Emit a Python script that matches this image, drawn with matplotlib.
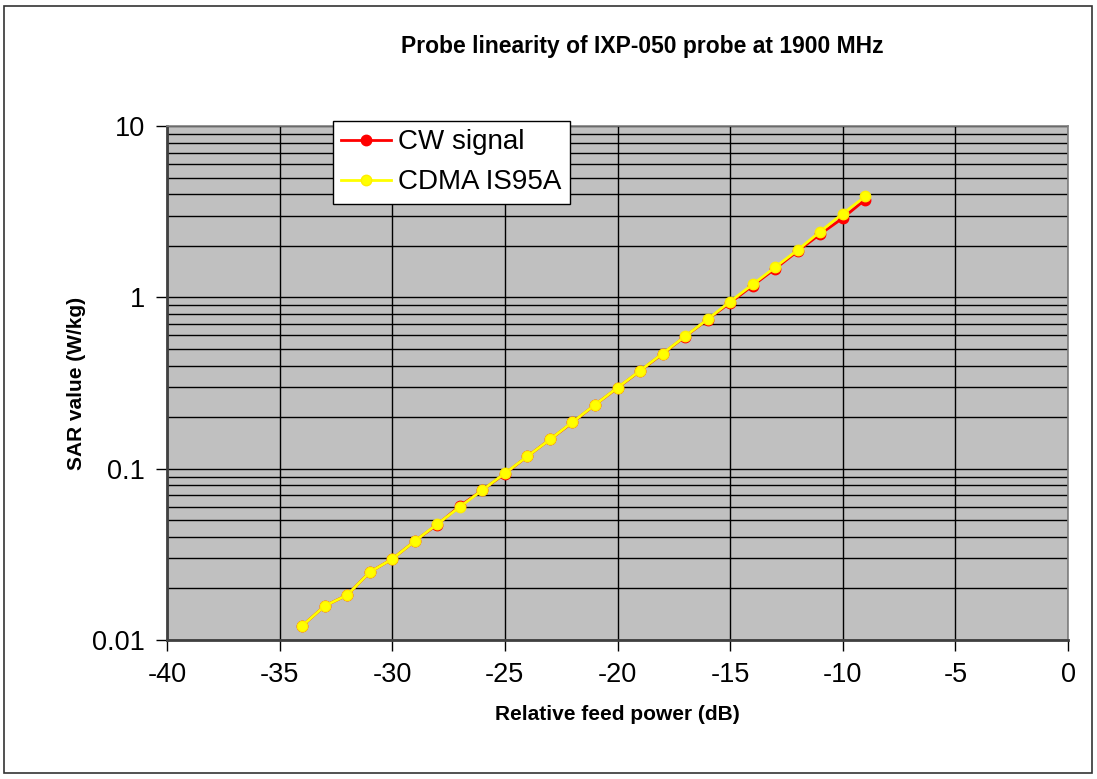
import matplotlib
matplotlib.use("Agg")
import matplotlib.pyplot as plt
from matplotlib.patches import Rectangle
from matplotlib.ticker import LogLocator, NullFormatter, FixedLocator

plt.rcParams['font.family'] = ['Liberation Sans', 'DejaVu Sans']
plt.rcParams['axes.unicode_minus'] = False

# relative feed power (dB)
power_db = [-34, -33, -32, -31, -30, -29, -28, -27, -26, -25, -24, -23, -22,
            -21, -20, -19, -18, -17, -16, -15, -14, -13, -12, -11, -10, -9]

# SAR values (W/kg)
sar_cw = [0.0121, 0.0158, 0.0183, 0.0249, 0.0297, 0.0378, 0.0472, 0.0605,
          0.0750, 0.0935, 0.118, 0.148, 0.186, 0.236, 0.296, 0.372, 0.468,
          0.590, 0.742, 0.930, 1.17, 1.47, 1.86, 2.34, 2.90, 3.72]
sar_cdma = [0.0121, 0.0158, 0.0183, 0.0249, 0.0297, 0.0378, 0.0475, 0.0598,
            0.0750, 0.0940, 0.118, 0.148, 0.187, 0.236, 0.297, 0.373, 0.470,
            0.592, 0.745, 0.945, 1.19, 1.50, 1.89, 2.42, 3.08, 3.88]

fig = plt.figure(figsize=(10.97, 7.79), dpi=100)
ax = fig.add_axes([167 / 1097, 1 - 640 / 779, (1068 - 167) / 1097, (640 - 126) / 779])
ax.set_facecolor('#C0C0C0')

ax.plot(power_db, sar_cw, color='#FF0000', lw=2, marker='o', ms=7.5,
        mfc='#FF0000', mec='#FF0000', label='CW signal', zorder=3)
ax.plot(power_db, sar_cdma, color='#FFFF00', lw=2, marker='o', ms=7.5,
        mfc='#FFFF00', mec='#FFEE00', label='CDMA IS95A', zorder=4)

ax.set_yscale('log')
ax.set_xlim(-40, 0)
ax.set_ylim(0.01, 10)
ax.xaxis.set_major_locator(FixedLocator(range(-40, 1, 5)))
ax.yaxis.set_major_locator(FixedLocator([0.01, 0.1, 1, 10]))
ax.set_yticklabels(['0.01', '0.1', '1', '10'])
ax.yaxis.set_minor_locator(LogLocator(base=10, subs=range(2, 10)))
ax.yaxis.set_minor_formatter(NullFormatter())

ax.grid(True, which='major', color='black', lw=1.0)
ax.grid(True, which='minor', axis='y', color='black', lw=1.0)
ax.set_axisbelow(True)

ax.tick_params(axis='both', which='major', direction='out', length=8,
               width=1, labelsize=19.5, colors='black', pad=8)
ax.tick_params(axis='y', which='minor', length=0)

for side in ['top', 'right']:
    ax.spines[side].set_color('#808080')
    ax.spines[side].set_linewidth(1.2)
for side in ['bottom', 'left']:
    ax.spines[side].set_color('#404040')
    ax.spines[side].set_linewidth(2)

ax.set_xlabel('Relative feed power (dB)', fontsize=15, fontweight='bold', labelpad=12)
ax.set_ylabel('SAR value (W/kg)', fontsize=15, fontweight='bold', labelpad=4)
fig.text(642 / 1097, 1 - 47 / 779, 'Probe linearity of IXP-050 probe at 1900 MHz',
         ha='center', va='center', fontsize=16.5, fontweight='bold')

leg = ax.legend(loc='upper left', bbox_to_anchor=(333 / 1097, 1 - 121 / 779),
                bbox_transform=fig.transFigure, fontsize=20, frameon=True,
                fancybox=False, edgecolor='black', framealpha=1,
                borderpad=0.3, labelspacing=0.5, handlelength=1.8,
                handletextpad=0.25, borderaxespad=0)
leg.get_frame().set_linewidth(1.0)

fig.patches.append(Rectangle((4 / 1097, 1 - 773 / 779), 1088 / 1097, 767 / 779,
                             transform=fig.transFigure, fill=False,
                             edgecolor='#333333', lw=1.2))

plt.savefig('out.png', dpi=100)
